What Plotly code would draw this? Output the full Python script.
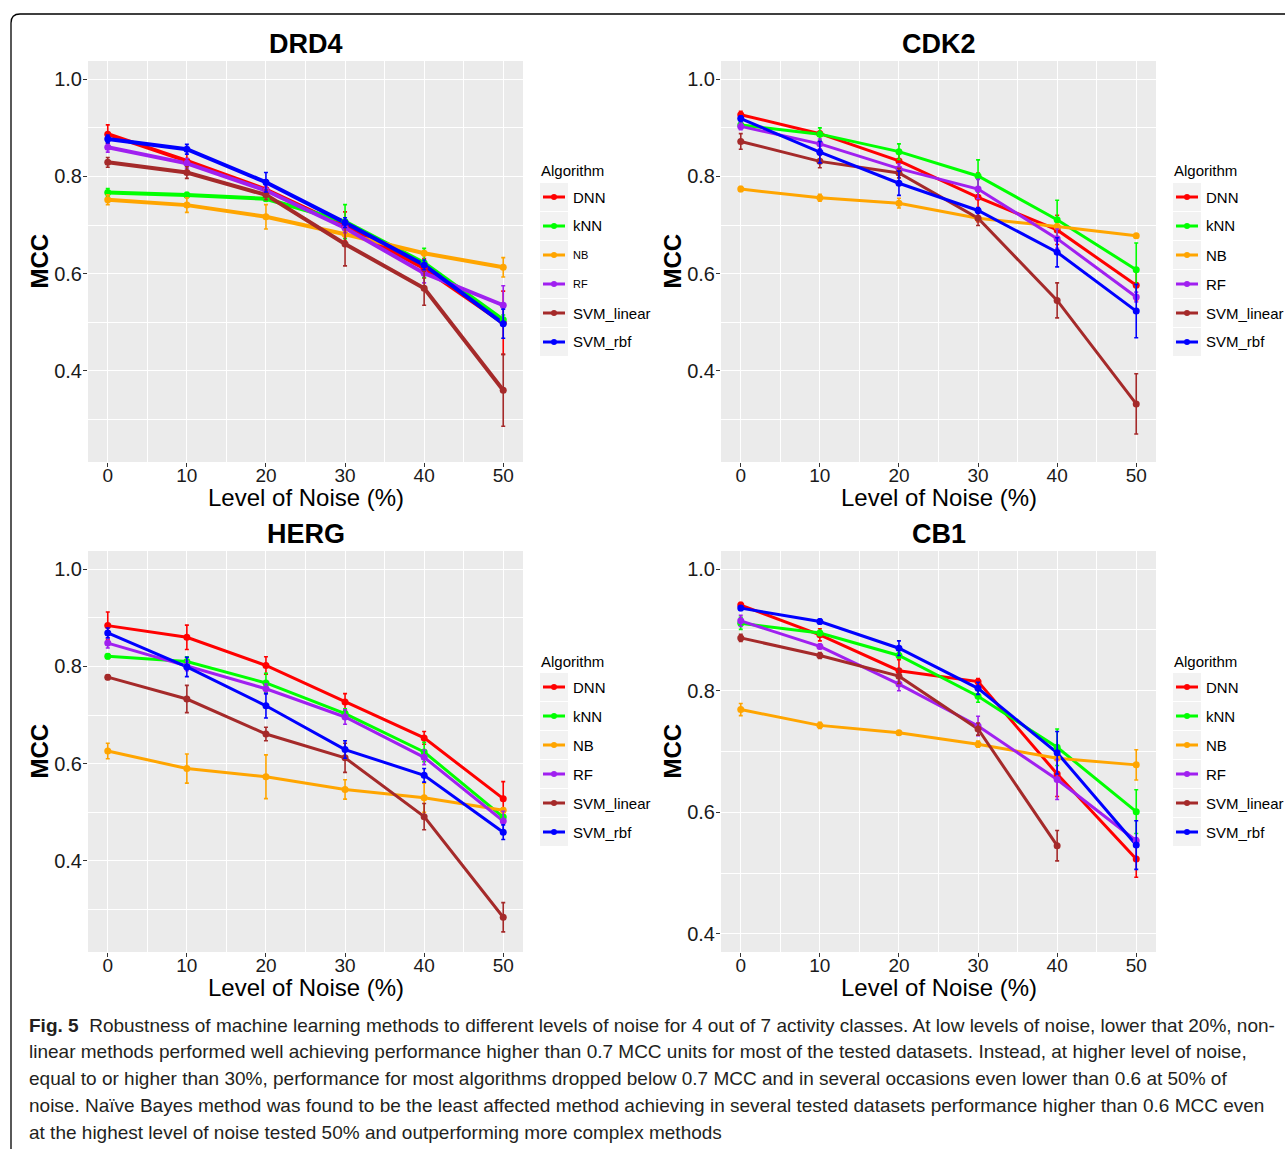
import plotly.graph_objects as go

W, H = 1285, 1149

noise_levels = [0, 10, 20, 30, 40, 50]
algorithms = ["DNN", "kNN", "NB", "RF", "SVM_linear", "SVM_rbf"]
algo_colors = ["#FF0000", "#00FF00", "#FFA500", "#A020F0", "#A52A2A", "#0000FF"]
panel_titles = ["DRD4", "CDK2", "HERG", "CB1"]
y_ticks = [0.4, 0.6, 0.8, 1.0]
x_ticks = [0, 10, 20, 30, 40, 50]

# ---- DRD4 ----
drd4_dnn = [0.887, 0.832, 0.773, 0.697, 0.611, 0.499]
drd4_knn = [0.767, 0.762, 0.754, 0.707, 0.622, 0.505]
drd4_nb = [0.752, 0.741, 0.717, 0.681, 0.642, 0.613]
drd4_rf = [0.860, 0.827, 0.771, 0.694, 0.601, 0.535]
drd4_svm_linear = [0.829, 0.808, 0.762, 0.661, 0.570, 0.360]
drd4_svm_rbf = [0.877, 0.856, 0.788, 0.705, 0.618, 0.497]
drd4_dnn_err = [0.019, 0.020, 0.020, 0.030, 0.020, 0.065]
drd4_knn_err = [0.008, 0.005, 0.005, 0.035, 0.030, 0.010]
drd4_nb_err = [0.010, 0.015, 0.025, 0.005, 0.005, 0.020]
drd4_rf_err = [0.010, 0.010, 0.010, 0.010, 0.020, 0.040]
drd4_svm_linear_err = [0.010, 0.012, 0.010, 0.045, 0.035, 0.074]
drd4_svm_rbf_err = [0.008, 0.010, 0.020, 0.010, 0.010, 0.030]

# ---- CDK2 ----
cdk2_dnn = [0.927, 0.888, 0.832, 0.757, 0.690, 0.576]
cdk2_knn = [0.906, 0.887, 0.851, 0.801, 0.711, 0.608]
cdk2_nb = [0.774, 0.756, 0.745, 0.714, 0.697, 0.678]
cdk2_rf = [0.903, 0.867, 0.816, 0.774, 0.672, 0.552]
cdk2_svm_linear = [0.872, 0.831, 0.807, 0.714, 0.545, 0.332]
cdk2_svm_rbf = [0.919, 0.850, 0.786, 0.730, 0.644, 0.523]
cdk2_dnn_err = [0.007, 0.005, 0.020, 0.050, 0.030, 0.030]
cdk2_knn_err = [0.005, 0.013, 0.016, 0.033, 0.040, 0.055]
cdk2_nb_err = [0.005, 0.007, 0.010, 0.005, 0.005, 0.004]
cdk2_rf_err = [0.007, 0.010, 0.010, 0.020, 0.020, 0.010]
cdk2_svm_linear_err = [0.016, 0.013, 0.010, 0.015, 0.036, 0.062]
cdk2_svm_rbf_err = [0.006, 0.022, 0.025, 0.006, 0.030, 0.055]

# ---- HERG ----
herg_dnn = [0.884, 0.860, 0.802, 0.727, 0.653, 0.528]
herg_knn = [0.821, 0.810, 0.766, 0.703, 0.624, 0.490]
herg_nb = [0.626, 0.590, 0.573, 0.547, 0.530, 0.504]
herg_rf = [0.848, 0.801, 0.754, 0.696, 0.613, 0.482]
herg_svm_linear = [0.778, 0.733, 0.661, 0.612, 0.491, 0.284]
herg_svm_rbf = [0.869, 0.799, 0.719, 0.629, 0.576, 0.459]
herg_dnn_err = [0.028, 0.025, 0.018, 0.017, 0.013, 0.035]
herg_knn_err = [0.005, 0.010, 0.020, 0.010, 0.020, 0.005]
herg_nb_err = [0.016, 0.030, 0.045, 0.020, 0.030, 0.005]
herg_rf_err = [0.010, 0.010, 0.010, 0.015, 0.015, 0.020]
herg_svm_linear_err = [0.005, 0.028, 0.014, 0.030, 0.027, 0.030]
herg_svm_rbf_err = [0.010, 0.020, 0.025, 0.018, 0.014, 0.015]

# ---- CB1 ----
cb1_dnn = [0.941, 0.892, 0.833, 0.815, 0.663, 0.523]
cb1_knn = [0.911, 0.895, 0.858, 0.791, 0.707, 0.601]
cb1_nb = [0.769, 0.743, 0.731, 0.712, 0.689, 0.678]
cb1_rf = [0.915, 0.873, 0.811, 0.742, 0.654, 0.553]
cb1_svm_linear = [0.887, 0.858, 0.824, 0.737, 0.545, None]
cb1_svm_rbf = [0.936, 0.914, 0.870, 0.804, 0.698, 0.546]
cb1_dnn_err = [0.004, 0.010, 0.018, 0.005, 0.037, 0.030]
cb1_knn_err = [0.010, 0.004, 0.004, 0.010, 0.030, 0.036]
cb1_nb_err = [0.010, 0.005, 0.003, 0.005, 0.003, 0.025]
cb1_rf_err = [0.009, 0.004, 0.011, 0.016, 0.033, 0.005]
cb1_svm_linear_err = [0.006, 0.005, 0.012, 0.010, 0.025, None]
cb1_svm_rbf_err = [0.004, 0.004, 0.012, 0.010, 0.035, 0.040]

caption_lines = [
    "Robustness of machine learning methods to different levels of noise for 4 out of 7 activity classes. At low levels of noise, lower that 20%, non-",
    "linear methods performed well achieving performance higher than 0.7 MCC units for most of the tested datasets. Instead, at higher level of noise,",
    "equal to or higher than 30%, performance for most algorithms dropped below 0.7 MCC and in several occasions even lower than 0.6 at 50% of",
    "noise. Naïve Bayes method was found to be the least affected method achieving in several tested datasets performance higher than 0.6 MCC even",
    "at the highest level of noise tested 50% and outperforming more complex methods",
]

panel_values = [
    [drd4_dnn, drd4_knn, drd4_nb, drd4_rf, drd4_svm_linear, drd4_svm_rbf],
    [cdk2_dnn, cdk2_knn, cdk2_nb, cdk2_rf, cdk2_svm_linear, cdk2_svm_rbf],
    [herg_dnn, herg_knn, herg_nb, herg_rf, herg_svm_linear, herg_svm_rbf],
    [cb1_dnn, cb1_knn, cb1_nb, cb1_rf, cb1_svm_linear, cb1_svm_rbf],
]
panel_errors = [
    [drd4_dnn_err, drd4_knn_err, drd4_nb_err, drd4_rf_err, drd4_svm_linear_err, drd4_svm_rbf_err],
    [cdk2_dnn_err, cdk2_knn_err, cdk2_nb_err, cdk2_rf_err, cdk2_svm_linear_err, cdk2_svm_rbf_err],
    [herg_dnn_err, herg_knn_err, herg_nb_err, herg_rf_err, herg_svm_linear_err, herg_svm_rbf_err],
    [cb1_dnn_err, cb1_knn_err, cb1_nb_err, cb1_rf_err, cb1_svm_linear_err, cb1_svm_rbf_err],
]


def px(x):
    return x / W


def py(y):
    return 1 - y / H


FONT = "Liberation Sans, Arial, Helvetica, sans-serif"
CAP_FONT = "Liberation Sans, Arial, sans-serif"

# layout geometry (pixels)
panel_x = [(88, 523), (721, 1156), (88, 523), (721, 1156)]
panel_y = [(61, 462), (61, 462), (551, 952), (551, 952)]
y_ranges = [[0.2125, 1.0375], [0.2125, 1.0375], [0.2125, 1.0375], [0.37, 1.03]]
line_widths = [4, 3, 3, 3]
legend_x = [540, 1173, 540, 1173]
legend_label_sizes = [[15, 15, 11, 11, 15, 15], [15] * 6, [15] * 6, [15] * 6]

fig = go.Figure()
layout = dict(
    width=W, height=H, margin=dict(l=0, r=0, t=0, b=0),
    paper_bgcolor="white", plot_bgcolor="#EBEBEB", showlegend=False,
    font=dict(family=FONT, color="#1A1A1A"),
)
annotations = []
shapes = []

for p in range(4):
    sfx = "" if p == 0 else str(p + 1)
    xa, ya = "x" + sfx, "y" + sfx
    x0, x1 = panel_x[p]
    y0, y1 = panel_y[p]
    layout["xaxis" + sfx] = dict(
        domain=[px(x0), px(x1)], range=[-2.5, 52.5], anchor=ya,
        tickmode="array", tickvals=x_ticks, ticktext=[str(v) for v in x_ticks],
        showgrid=True, gridcolor="white", gridwidth=1.2, zeroline=False, showline=False,
        ticks="outside", ticklen=4, tickwidth=1, tickcolor="#333333",
        tickfont=dict(size=19, color="#1A1A1A"), ticklabelstandoff=-8,
        minor=dict(dtick=5, tick0=0, showgrid=True, gridcolor="white", gridwidth=0.6, ticks=""),
    )
    layout["yaxis" + sfx] = dict(
        domain=[py(y1), py(y0)], range=y_ranges[p], anchor=xa,
        tickmode="array", tickvals=y_ticks, ticktext=["%.1f" % v for v in y_ticks],
        showgrid=True, gridcolor="white", gridwidth=1.2, zeroline=False, showline=False,
        ticks="outside", ticklen=4, tickwidth=1, tickcolor="#333333",
        tickfont=dict(size=20, color="#1A1A1A"), ticklabelstandoff=-3,
        minor=dict(dtick=0.1, tick0=0, showgrid=True, gridcolor="white", gridwidth=0.6, ticks=""),
    )
    # lines first
    for a in range(6):
        fig.add_trace(go.Scatter(
            x=noise_levels, y=panel_values[p][a], mode="lines", name=algorithms[a],
            line=dict(color=algo_colors[a], width=line_widths[p]),
            xaxis=xa, yaxis=ya, hoverinfo="skip", showlegend=False,
        ))
    # points + error bars
    for a in range(6):
        fig.add_trace(go.Scatter(
            x=noise_levels, y=panel_values[p][a], mode="markers", name=algorithms[a],
            marker=dict(color=algo_colors[a], size=7),
            error_y=dict(type="data", array=panel_errors[p][a], color=algo_colors[a],
                         thickness=1.6, width=2, visible=True),
            xaxis=xa, yaxis=ya, showlegend=False,
        ))
    cx = (x0 + x1) / 2
    cy = (y0 + y1) / 2
    annotations.append(dict(text="<b>%s</b>" % panel_titles[p], x=px(cx), y=py(y0 - 17),
                            xref="paper", yref="paper", showarrow=False,
                            xanchor="center", yanchor="middle",
                            font=dict(size=27, color="black", family=FONT)))
    annotations.append(dict(text="Level of Noise (%)", x=px(cx), y=py(y1 + 35),
                            xref="paper", yref="paper", showarrow=False,
                            xanchor="center", yanchor="middle",
                            font=dict(size=24, color="black", family=FONT)))
    annotations.append(dict(text="<b>MCC</b>", x=px(x0 - 49), y=py(cy), textangle=-90,
                            xref="paper", yref="paper", showarrow=False,
                            xanchor="center", yanchor="middle",
                            font=dict(size=24, color="black", family=FONT)))
    # legend (manual, ggplot-style keys)
    lx = legend_x[p]
    dy = y0 - 61
    annotations.append(dict(text="Algorithm", x=px(lx - 1), y=py(171 + dy),
                            xref="paper", yref="paper", showarrow=False,
                            xanchor="left", yanchor="middle",
                            font=dict(size=15, color="black", family=FONT)))
    for a in range(6):
        c = 197 + 29 * a + dy
        shapes.append(dict(type="rect", xref="paper", yref="paper",
                           x0=px(lx), x1=px(lx + 28), y0=py(c + 14), y1=py(c - 14),
                           fillcolor="#F2F2F2", line=dict(width=0), layer="above"))
        shapes.append(dict(type="line", xref="paper", yref="paper",
                           x0=px(lx + 3), x1=px(lx + 25), y0=py(c), y1=py(c),
                           line=dict(color=algo_colors[a], width=3), layer="above"))
        shapes.append(dict(type="circle", xref="paper", yref="paper",
                           x0=px(lx + 11), x1=px(lx + 17), y0=py(c + 3), y1=py(c - 3),
                           fillcolor=algo_colors[a], line=dict(width=0), layer="above"))
        annotations.append(dict(text=algorithms[a], x=px(lx + 31), y=py(c),
                                xref="paper", yref="paper", showarrow=False,
                                xanchor="left", yanchor="middle",
                                font=dict(size=legend_label_sizes[p][a], color="black", family=FONT)))

# caption
for i, line in enumerate(caption_lines):
    txt = ("<b>Fig. 5</b>  " + line) if i == 0 else line
    annotations.append(dict(text=txt, x=px(27), y=py(1025 + 26.8 * i),
                            xref="paper", yref="paper", showarrow=False,
                            xanchor="left", yanchor="middle",
                            font=dict(size=19, color="#231F20", family=CAP_FONT)))

# outer rounded frame
fx, fy, r = 11, 14, 9
path = "M %f,%f L %f,%f Q %f,%f %f,%f L %f,%f" % (
    px(fx), py(H + 20), px(fx), py(fy + r), px(fx), py(fy), px(fx + r), py(fy), px(W + 20), py(fy))
shapes.append(dict(type="path", xref="paper", yref="paper", path=path,
                   line=dict(color="black", width=1.3)))

layout["annotations"] = annotations
layout["shapes"] = shapes
fig.update_layout(**layout)
fig.write_html("out.html", config={"displayModeBar": False},
               post_script="document.body.style.margin='0';document.body.style.overflow='hidden';")
